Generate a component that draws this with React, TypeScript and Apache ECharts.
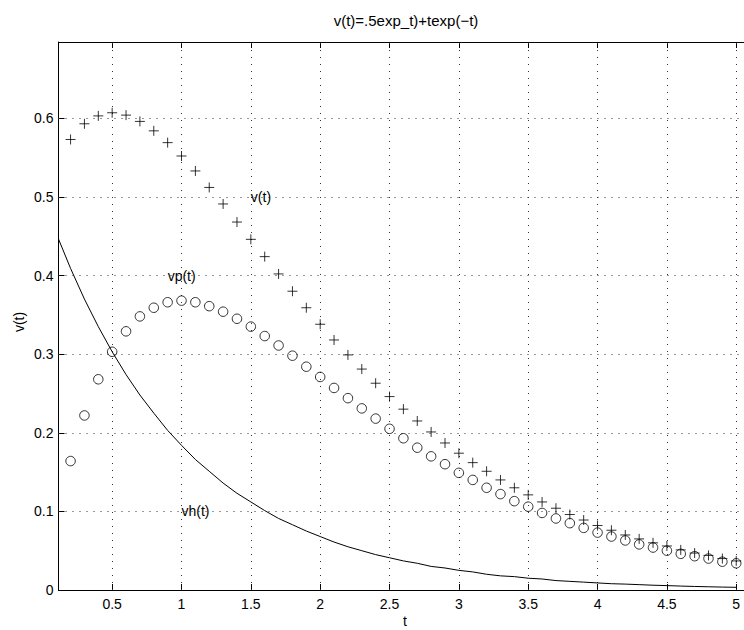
import React, { useEffect, useRef } from "react";
import * as echarts from "echarts";

const FONT = "'Liberation Sans', Arial, Helvetica, sans-serif";

const titleText = "v(t)=.5exp_t)+texp(\u2212t)";
const xName = "t";
const yName = "v(t)";

const xTicks = [0.5, 1, 1.5, 2, 2.5, 3, 3.5, 4, 4.5, 5];
const yTicks = [0, 0.1, 0.2, 0.3, 0.4, 0.5, 0.6];

// marker sample times
const tMarkers = [
  0.2, 0.3, 0.4, 0.5, 0.6, 0.7, 0.8, 0.9, 1.0, 1.1, 1.2, 1.3, 1.4, 1.5, 1.6, 1.7, 1.8, 1.9, 2.0,
  2.1, 2.2, 2.3, 2.4, 2.5, 2.6, 2.7, 2.8, 2.9, 3.0, 3.1, 3.2, 3.3, 3.4, 3.5, 3.6, 3.7, 3.8, 3.9,
  4.0, 4.1, 4.2, 4.3, 4.4, 4.5, 4.6, 4.7, 4.8, 4.9, 5.0,
];

// v(t) '+' markers
const vValues = [
  0.573, 0.593, 0.603, 0.607, 0.604, 0.596, 0.584, 0.569, 0.552, 0.533, 0.512, 0.491, 0.468,
  0.446, 0.424, 0.402, 0.380, 0.359, 0.338, 0.318, 0.299, 0.281, 0.263, 0.246, 0.230, 0.215,
  0.201, 0.187, 0.174, 0.162, 0.151, 0.140, 0.130, 0.121, 0.112, 0.104, 0.096, 0.089, 0.082,
  0.076, 0.070, 0.065, 0.060, 0.056, 0.051, 0.047, 0.044, 0.040, 0.037,
];

// vp(t) 'o' markers
const vpValues = [
  0.164, 0.222, 0.268, 0.303, 0.329, 0.348, 0.359, 0.366, 0.368, 0.366, 0.361, 0.354, 0.345,
  0.335, 0.323, 0.311, 0.298, 0.284, 0.271, 0.257, 0.244, 0.231, 0.218, 0.205, 0.193, 0.181,
  0.170, 0.160, 0.149, 0.140, 0.130, 0.122, 0.113, 0.106, 0.098, 0.091, 0.085, 0.079, 0.073,
  0.068, 0.063, 0.058, 0.054, 0.050, 0.046, 0.043, 0.040, 0.036, 0.034,
];

// vh(t) solid line
const tLine = [
  0.1, 0.2, 0.3, 0.4, 0.5, 0.6, 0.7, 0.8, 0.9, 1.0, 1.1, 1.2, 1.3, 1.4, 1.5, 1.6, 1.7, 1.8, 1.9,
  2.0, 2.1, 2.2, 2.3, 2.4, 2.5, 2.6, 2.7, 2.8, 2.9, 3.0, 3.1, 3.2, 3.3, 3.4, 3.5, 3.6, 3.7, 3.8,
  3.9, 4.0, 4.1, 4.2, 4.3, 4.4, 4.5, 4.6, 4.7, 4.8, 4.9, 5.0,
];
const vhValues = [
  0.452, 0.409, 0.370, 0.335, 0.303, 0.274, 0.248, 0.225, 0.203, 0.184, 0.166, 0.151, 0.136,
  0.123, 0.112, 0.101, 0.091, 0.083, 0.075, 0.068, 0.061, 0.055, 0.050, 0.045, 0.041, 0.037,
  0.034, 0.030, 0.028, 0.025, 0.023, 0.020, 0.018, 0.017, 0.015, 0.014, 0.012, 0.011, 0.010,
  0.009, 0.008, 0.0075, 0.0068, 0.0061, 0.0056, 0.0050, 0.0045, 0.0041, 0.0037, 0.0034,
];

// in-plot text annotations
const annoNames = ["v(t)", "vp(t)", "vh(t)"];
const annoX = [1.5, 0.9, 1.0];
const annoY = [0.5, 0.4, 0.1];

const X_MIN = 0.113;
const X_MAX = 5.056;
const Y_MIN = 0;
const Y_MAX = 0.697;

export default function App() {
  const ref = useRef<HTMLDivElement>(null);

  useEffect(() => {
    document.body.style.margin = "0";
    if (!ref.current) return;
    const chart = echarts.init(ref.current, undefined, { renderer: "svg" });

    const plusPath = "path://M0,5L10,5M5,0L5,10";

    const gridLineData: any[] = [
      ...xTicks.map((x) => ({ xAxis: x })),
      ...yTicks.filter((y) => y > 0).map((y) => ({ yAxis: y })),
    ];

    const axisLineStyle = { color: "#000", width: 1 };

    const option: any = {
      animation: false,
      backgroundColor: "#fff",
      textStyle: { fontFamily: FONT },
      grid: { left: 58.5, top: 42, width: 687.5, height: 548, containLabel: false },
      xAxis: [
        {
          type: "value",
          position: "bottom",
          min: X_MIN,
          max: X_MAX,
          axisLine: { show: true, onZero: false, lineStyle: axisLineStyle },
          axisTick: { show: true, inside: true, length: 6, customValues: xTicks, lineStyle: axisLineStyle },
          axisLabel: {
            show: true,
            customValues: xTicks,
            margin: 7,
            color: "#000",
            fontSize: 14,
            fontFamily: FONT,
          },
          splitLine: { show: false },
        },
        {
          type: "value",
          position: "top",
          min: X_MIN,
          max: X_MAX,
          axisLine: { show: true, onZero: false, lineStyle: axisLineStyle },
          axisTick: { show: true, inside: true, length: 6, customValues: xTicks, lineStyle: axisLineStyle },
          axisLabel: { show: false },
          splitLine: { show: false },
        },
      ],
      yAxis: [
        {
          type: "value",
          position: "left",
          min: Y_MIN,
          max: Y_MAX,
          axisLine: { show: true, onZero: false, lineStyle: axisLineStyle },
          axisTick: { show: true, inside: true, length: 6, customValues: yTicks, lineStyle: axisLineStyle },
          axisLabel: {
            show: true,
            customValues: yTicks,
            margin: 5,
            color: "#000",
            fontSize: 14,
            fontFamily: FONT,
          },
          splitLine: { show: false },
        },
      ],
      graphic: [
        {
          type: "text",
          x: 406,
          y: 20,
          style: {
            text: titleText,
            fill: "#000",
            font: `15px ${FONT}`,
            textAlign: "center",
            textVerticalAlign: "middle",
          },
        },
        {
          type: "text",
          x: 405,
          y: 621,
          style: {
            text: xName,
            fill: "#000",
            font: `14px ${FONT}`,
            textAlign: "center",
            textVerticalAlign: "middle",
          },
        },
        {
          type: "text",
          x: 18.5,
          y: 322,
          rotation: Math.PI / 2,
          style: {
            text: yName,
            fill: "#000",
            font: `14px ${FONT}`,
            textAlign: "center",
            textVerticalAlign: "middle",
          },
        },
      ],
      series: [
        {
          name: "vh(t)",
          type: "line",
          data: tLine.map((t, i) => [t, vhValues[i]]),
          showSymbol: false,
          symbol: "none",
          clip: true,
          lineStyle: { color: "#000", width: 1 },
          z: 3,
          markLine: {
            silent: true,
            symbol: ["none", "none"],
            label: { show: false },
            lineStyle: { color: "#333", width: 1, type: [1, 6] },
            data: gridLineData,
            z: 1,
          },
        },
        {
          name: "v(t)",
          type: "scatter",
          data: tMarkers.map((t, i) => [t, vValues[i]]),
          symbol: plusPath,
          symbolSize: 10,
          itemStyle: { color: "transparent", borderColor: "#000", borderWidth: 1 },
          z: 4,
        },
        {
          name: "vp(t)",
          type: "scatter",
          data: tMarkers.map((t, i) => [t, vpValues[i]]),
          symbol: "circle",
          symbolSize: 9.5,
          itemStyle: { color: "transparent", borderColor: "#000", borderWidth: 1 },
          z: 4,
        },
        {
          name: "labels",
          type: "scatter",
          data: annoNames.map((n, i) => ({ name: n, value: [annoX[i], annoY[i]] })),
          symbol: "circle",
          symbolSize: 0,
          itemStyle: { color: "#000", opacity: 1 },
          label: {
            show: true,
            position: "right",
            distance: 0,
            formatter: "{b}",
            color: "#000",
            opacity: 1,
            textBorderWidth: 0,
            fontSize: 14,
            fontFamily: FONT,
          },
          z: 5,
        },
      ],
    };

    chart.setOption(option);
    return () => chart.dispose();
  }, []);

  return (
    <div
      ref={ref}
      style={{ position: "fixed", left: 0, top: 0, width: 744, height: 630, background: "#fff" }}
    />
  );
}
